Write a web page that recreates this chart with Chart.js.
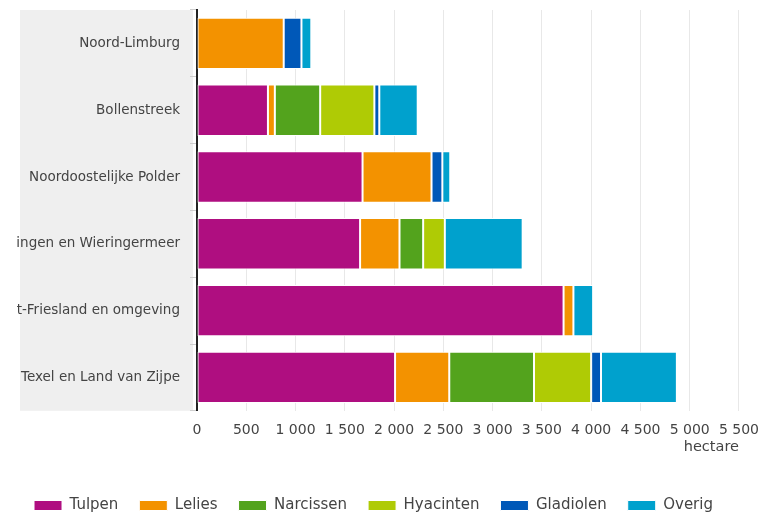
<!DOCTYPE html>
<html>
<head>
<meta charset="utf-8">
<script src="https://cdn.jsdelivr.net/npm/chart.js@4"></script>
<style>
  html, body { margin: 0; padding: 0; background: #fff; }
  #wrap { width: 770px; height: 512px; }
</style>
</head>
<body>
<div id="wrap"><canvas id="bulbChart"></canvas></div>
<script>
const regions = ['Noord-Limburg', 'Bollenstreek', 'Noordoostelijke Polder',
    'ingen en Wieringermeer', 't-Friesland en omgeving', 'Texel en Land van Zijpe'];
const tulpen    = [0, 720, 1680, 1655, 3720, 2010];
const lelies    = [880, 70, 700, 400, 100, 550];
const narcissen = [0, 460, 0, 240, 0, 860];
const hyacinten = [0, 550, 0, 220, 0, 580];
const gladiolen = [180, 50, 110, 0, 0, 100];
const overig    = [100, 390, 80, 790, 200, 770];
const xMax = 5500;
const xStep = 500;

const font = 'DejaVu Sans';

// grey band behind the region labels
const labelPanel = {
    id: 'labelPanel',
    beforeDraw(chart) {
        const { ctx, chartArea } = chart;
        ctx.save();
        ctx.fillStyle = '#efefef';
        ctx.fillRect(chartArea.left - 177, chartArea.top, 173, chartArea.bottom - chartArea.top);
        ctx.restore();
    }
};

function series(label, data, color) {
    return {
        label: label,
        data: data,
        backgroundColor: color,
        borderColor: '#ffffff',
        borderWidth: 1,
        borderSkipped: false,
        barPercentage: 0.77,
        categoryPercentage: 1
    };
}

const ctx = document.getElementById('bulbChart').getContext('2d');
const bulbChart = new Chart(ctx, {
    type: 'bar',
    data: {
        labels: regions,
        datasets: [
            series('Tulpen', tulpen, '#af0e80'),
            series('Lelies', lelies, '#f39200'),
            series('Narcissen', narcissen, '#53a31d'),
            series('Hyacinten', hyacinten, '#afcb05'),
            series('Gladiolen', gladiolen, '#0058b8'),
            series('Overig', overig, '#00a1cd')
        ]
    },
    options: {
        indexAxis: 'y',
        responsive: true,
        maintainAspectRatio: false,
        animation: false,
        layout: { padding: { top: 10, right: 23, bottom: -11, left: 0 } },
        scales: {
            x: {
                stacked: true,
                min: 0,
                max: xMax,
                border: { display: false },
                grid: { color: '#e8e8e8', drawTicks: false },
                ticks: {
                    stepSize: xStep,
                    padding: 11,
                    color: '#444',
                    font: { family: font, size: 14 },
                    callback: v => String(v).replace(/\B(?=(\d{3})+(?!\d))/g, ' ')
                },
                title: {
                    display: true,
                    text: 'hectare',
                    align: 'end',
                    color: '#444',
                    font: { family: font, size: 14.5 },
                    padding: { top: -11, bottom: 21 }
                }
            },
            y: {
                stacked: true,
                afterFit(scale) {
                    scale.width = 197;
                    scale.paddingTop = 0;
                    scale.paddingBottom = 0;
                },
                border: { color: '#222', width: 2 },
                grid: { drawOnChartArea: false, tickLength: 7, color: '#cfcfcf' },
                ticks: {
                    padding: 10,
                    color: '#444',
                    font: { family: font, size: 13.5 }
                }
            }
        },
        plugins: {
            legend: {
                position: 'bottom',
                labels: {
                    boxWidth: 28,
                    boxHeight: 10,
                    padding: 21,
                    color: '#444',
                    font: { family: font, size: 15 }
                }
            },
            tooltip: { enabled: false }
        }
    },
    plugins: [labelPanel]
});
</script>
</body>
</html>
